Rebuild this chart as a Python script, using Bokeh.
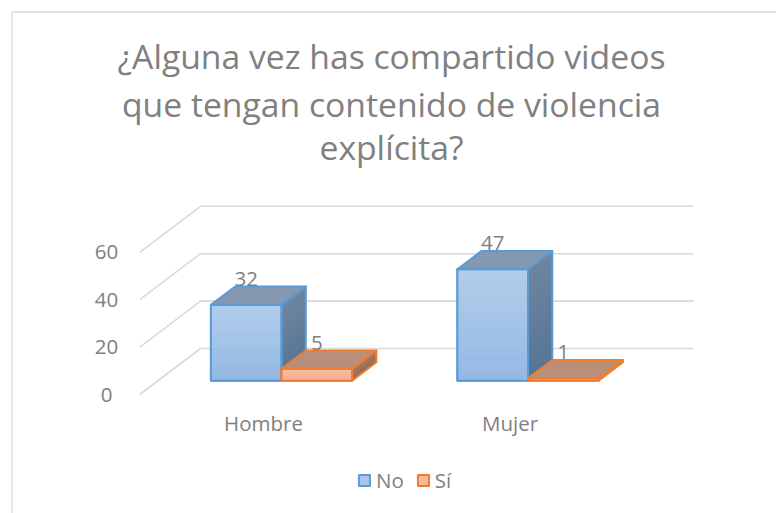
from bokeh.plotting import figure
from bokeh.models import Legend, LegendItem
from bokeh.core.properties import value
from bokeh.embed import file_html
from bokeh.resources import INLINE

categories = ["Hombre", "Mujer"]
series_names = ["No", "Sí"]
no_values = [32, 47]
si_values = [5, 1]
y_ticks = [0, 20, 40, 60]
title_lines = ["¿Alguna vez has compartido videos",
               "que tengan contenido de violencia",
               "explícita?"]

W, H = 776, 513
FONT = value("Open Sans")
GREY = "#808080"

# screen calibration: page pixels of the chart's front plane
X0_PAGE, CAT_PX = 139.3, 246.5
Y0_PAGE, UNIT_PX = 394.0, 2.37
DX, DY = 60.7 / CAT_PX, 46.0 / UNIT_PX   # full depth of the 3D box, data units
X_MAX = 2.0


def dx(px):
    return (px - X0_PAGE) / CAT_PX


def dy(py):
    return (Y0_PAGE - py) / UNIT_PX


p = figure(width=W, height=H, output_backend="svg", toolbar_location=None,
           x_range=(dx(0), dx(W)), y_range=(dy(H), dy(0)),
           min_border=0, outline_line_color=None, background_fill_color="white",
           border_fill_color="white")
p.xaxis.visible = False
p.yaxis.visible = False
p.grid.visible = False

# chart-area border
p.line([dx(11.5), dx(11.5)], [dy(11.5), dy(H)], line_color="#D9D9D9", line_width=1.3)
p.line([dx(11.5), dx(W)], [dy(11.5), dy(11.5)], line_color="#D9D9D9", line_width=1.3)

# gridlines: along the floor side wall, then across the back wall
for t in y_ticks:
    p.line([0, DX, DX + X_MAX], [t, t + DY, t + DY], line_color="#D9D9D9", line_width=1.6)

# tick labels
p.text([dx(106)] * len(y_ticks), y_ticks, text=[str(t) for t in y_ticks],
       text_font=FONT, text_font_size="20.5px", text_color=GREY,
       text_align="center", text_baseline="middle", y_offset=0)

# category labels
p.text([i + 0.502 for i in range(2)], [dy(422.5)] * 2, text=categories,
       text_font=FONT, text_font_size="20.5px", text_color=GREY,
       text_align="center", text_baseline="middle")

# title
for line, ty in zip(title_lines, [55, 103, 146]):
    p.text([dx(391)], [dy(ty)], text=[line], text_font=FONT, text_font_size="33.7px",
           text_color=GREY, text_align="center", text_baseline="middle")

BAR_W = 70.6 / CAT_PX
GAP = 52.9 / CAT_PX
D0, D1 = 0.3, 0.7
STEPS = 14


def mix(a, b, t):
    ca = [int(a[i:i + 2], 16) for i in (1, 3, 5)]
    cb = [int(b[i:i + 2], 16) for i in (1, 3, 5)]
    return "#%02x%02x%02x" % tuple(round(u + (v - u) * t) for u, v in zip(ca, cb))


def bar(x, val, line, front, top, side):
    ox, oy = D0 * DX, D0 * DY
    bx, by = (D1 - D0) * DX, (D1 - D0) * DY
    xl, xr = x + ox, x + ox + BAR_W
    yb, yt = oy, val + oy
    base = p.patch([xl, xr, xr, xl], [yb, yb, yt, yt], fill_color=mix(front[0], front[1], .35),
                   line_color=line, line_width=2)
    for k in range(STEPS):
        y1 = yt + (yb - yt) * k / STEPS
        c = mix(front[0], front[1], k / (STEPS - 1))
        p.quad(left=xl, right=xr, top=y1, bottom=yb, fill_color=c, line_color=None)
        c = mix(side[0], side[1], k / (STEPS - 1))
        p.patch([xr, xr + bx, xr + bx, xr], [y1, y1 + by, yb + by, yb], fill_color=c, line_color=None)
    p.patch([xl, xr, xr + bx, xl + bx], [yt, yt, yt + by, yt + by],
            fill_color=top, line_color=line, line_width=2, line_join="round")
    p.patch([xr, xr + bx, xr + bx, xr], [yb, yb + by, yt + by, yt],
            fill_alpha=0, line_color=line, line_width=2, line_join="round")
    p.patch([xl, xr, xr, xl], [yb, yb, yt, yt], fill_alpha=0, line_color=line,
            line_width=2, line_join="round")
    p.text([(xl + xr) / 2], [yt], text=[str(val)], text_font=FONT, text_font_size="20.5px",
           text_color=GREY, text_align="center", text_baseline="middle", y_offset=-26)
    return base


BLUE = dict(line="#5B9BD5", front=("#B1CDEB", "#95B9E4"), top="#8499B1", side=("#6F849D", "#567697"))
ORNG = dict(line="#ED7D31", front=("#F9BC9F", "#F7AF8C"), top="#BA8F79", side=("#A07A66", "#966B55"))

leg = {}
for i in range(2):
    x = i + GAP
    leg["No"] = bar(x, no_values[i], **BLUE)
    leg["Sí"] = bar(x + BAR_W, si_values[i], **ORNG)

legend = Legend(items=[LegendItem(label=n, renderers=[leg[n]]) for n in series_names],
                location=(357, 19), orientation="horizontal", glyph_width=14, glyph_height=14,
                label_text_font="Open Sans", label_text_font_size="20.5px",
                label_text_color=GREY, label_standoff=5, spacing=12, padding=0, margin=0,
                border_line_alpha=0, background_fill_alpha=0, label_height=14)
p.add_layout(legend, "center")

open("out.html", "w").write(file_html(p, INLINE))
